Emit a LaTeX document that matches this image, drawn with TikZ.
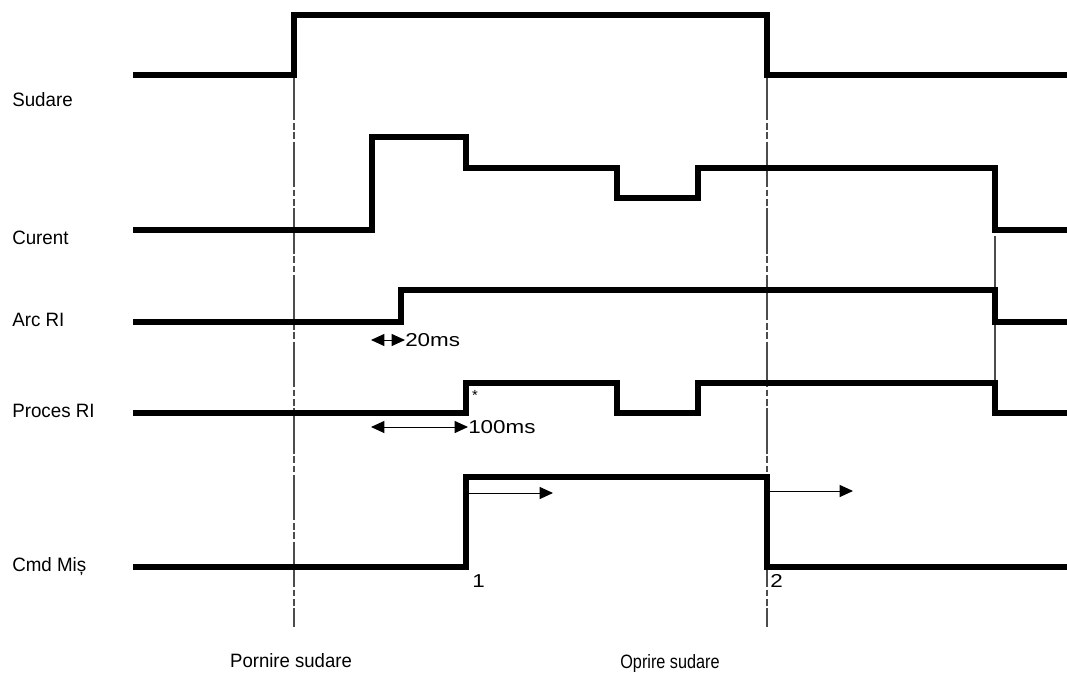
\documentclass[tikz,border=0pt]{standalone}
\usepackage{fontspec}
\setmainfont{Liberation Sans}
\usetikzlibrary{arrows.meta}
\begin{document}
\begin{tikzpicture}[x=0.75pt,y=-0.75pt,
  sig/.style={line width=3.8pt, line join=miter, line cap=butt},
  guide/.style={line width=0.9pt, draw=black!70, dash pattern=on 34pt off 2pt on 5pt off 2pt on 5pt off 2pt},
  thinline/.style={line width=0.8pt, draw=black!70},
  lbl/.style={anchor=west, font=\fontsize{14.5}{16}\selectfont, inner sep=0pt},
  bot/.style={font=\fontsize{14.5}{16}\selectfont, inner sep=0pt},
  small/.style={font=\fontsize{14}{16}\selectfont, inner sep=0pt, anchor=west},
  tip/.style={line width=0.75pt, -{Triangle[length=10pt,width=9pt]}},
  dtip/.style={line width=0.75pt, {Triangle[length=10pt,width=9pt]}-{Triangle[length=10pt,width=9pt]}}
]
\useasboundingbox (0,0) rectangle (1067,675);

% guide lines
\coordinate (g1t) at (294,75);
\coordinate (g1b) at (294,627);
\coordinate (g2t) at (767,75);
\coordinate (g2b) at (767,627);
\coordinate (g3t) at (995,236);
\coordinate (g3b) at (995,408);
\draw[guide] (g1t) -- (g1b);
\draw[guide] (g2t) -- (g2b);
\draw[thinline] (g3t) -- (g3b);

% signal labels
\node[lbl] (lsud) at (12,100) {\scalebox{0.97}[1]{Sudare}};
\node[lbl] (lcur) at (12,238) {\scalebox{0.97}[1]{Curent}};
\node[lbl] (larc) at (12,320) {\scalebox{0.97}[1]{Arc RI}};
\node[lbl] (lproc) at (12,411) {\scalebox{0.97}[1]{Proces RI}};
\node[lbl] (lcmd) at (12,567) {\scalebox{0.97}[1]{Cmd Miș}};

% waveforms
\draw[sig] (133,75) -- (294,75) -- (294,15) -- (767,15) -- (767,75) -- (1067,75);
\draw[sig] (133,230) -- (372,230) -- (372,137) -- (466,137) -- (466,168) -- (617,168) -- (617,198) -- (698,198) -- (698,168) -- (995,168) -- (995,230) -- (1067,230);
\draw[sig] (133,322) -- (401,322) -- (401,290) -- (995,290) -- (995,322) -- (1067,322);
\draw[sig] (133,413) -- (466,413) -- (466,383) -- (617,383) -- (617,413) -- (698,413) -- (698,383) -- (995,383) -- (995,413) -- (1067,413);
\draw[sig] (133,567) -- (466,567) -- (466,477) -- (767,477) -- (767,567) -- (1067,567);

% timing annotations
\node[small] (t20) at (405,340) {\scalebox{1.2}[1]{20ms}};
\coordinate (a20) at (371,340);
\draw[dtip] (a20) -- (t20.west);
\node[small] (t100) at (468,427) {\scalebox{1.2}[1]{100ms}};
\coordinate (a100) at (371,427);
\draw[dtip] (a100) -- (t100.west);
\node[inner sep=0pt, font=\fontsize{11}{12}\selectfont] (star) at (475,395) {*};

% motion command arrows
\coordinate (m1s) at (467,493);
\coordinate (m1e) at (553,493);
\draw[tip] (m1s) -- (m1e);
\coordinate (m2s) at (770,491);
\coordinate (m2e) at (853,491);
\draw[tip] (m2s) -- (m2e);
\node[small] (n1) at (472,581) {\scalebox{1.2}[1]{1}};
\node[small] (n2) at (770,581) {\scalebox{1.2}[1]{2}};

% bottom labels
\node[bot] (start) at (291,661) {\scalebox{0.96}[1]{Pornire sudare}};
\node[bot] (stop) at (670,663) {\scalebox{0.84}[1]{Oprire sudare}};
\end{tikzpicture}
\end{document}
